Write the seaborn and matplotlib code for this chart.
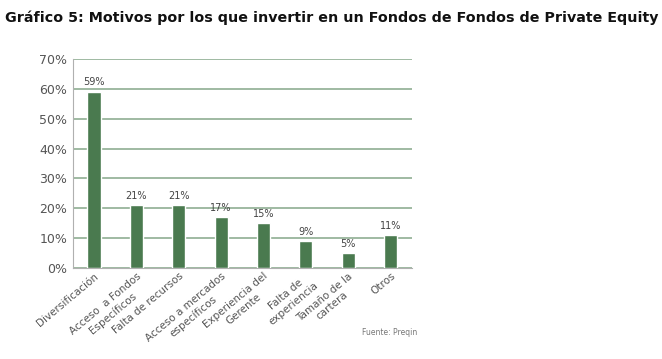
import pandas as pd
import matplotlib
matplotlib.use('Agg')
import matplotlib.pyplot as plt
import seaborn as sns
from matplotlib.ticker import PercentFormatter

# Datos del gráfico
categorias = ['Diversificación', 'Acceso  a Fondos\nEspecíficos', 'Falta de recursos',
              'Acceso a mercados\nespecíficos', 'Experiencia del\nGerente',
              'Falta de\nexperiencia', 'Tamaño de la\ncartera', 'Otros']
valores = [59, 21, 21, 17, 15, 9, 5, 11]
etiquetas = ['59%', '21%', '21%', '17%', '15%', '9%', '5%', '11%']

df = pd.DataFrame({'motivo': categorias, 'valor': valores})

sns.set_style('white')
plt.rcParams['font.family'] = ['DejaVu Sans']

fig = plt.figure(figsize=(6.62, 3.59), dpi=100)
ax = fig.add_axes([0.110, 0.253, 0.512, 0.583])

sns.barplot(data=df, x='motivo', y='valor', color='#4a7a4f', width=0.31,
            saturation=1, ax=ax, zorder=3)

# Etiquetas de valor
for i, (v, t) in enumerate(zip(valores, etiquetas)):
    ax.text(i, v + 1.5, t, ha='center', va='bottom', fontsize=7, color='#444444')

ax.set_ylim(0, 70)
ax.set_xlim(-0.5, 7.5)
ax.set_yticks(range(0, 71, 10))
ax.yaxis.set_major_formatter(PercentFormatter(decimals=0))
ax.grid(axis='y', color='#8fae92', linewidth=1.2, zorder=0)
ax.set_xlabel('')
ax.set_ylabel('')

for s in ['top', 'right']:
    ax.spines[s].set_visible(False)
ax.spines['left'].set_color('#b0b0b0')
ax.spines['bottom'].set_color('#b0b0b0')

# Ticks del eje x entre categorías
ax.set_xticks([i - 0.5 for i in range(9)], minor=True)
ax.tick_params(axis='x', which='minor', length=6, color='#999999', direction='out')
ax.tick_params(axis='x', which='major', length=0, labelsize=7.5, labelcolor='#555555', pad=2)
ax.tick_params(axis='y', length=0, labelsize=9, labelcolor='#555555', pad=4)
ax.set_xticks(range(len(categorias)))
ax.set_xticklabels(categorias, rotation=40, ha='right', rotation_mode='anchor',
                   multialignment='center')

fig.text(0.008, 0.95, 'Gráfico 5: Motivos por los que invertir en un Fondos de Fondos de Private Equity',
         fontsize=10.3, fontweight='bold', color='#111111', va='center', ha='left')
fig.text(0.547, 0.075, 'Fuente: Preqin', fontsize=5.5, color='#777777', ha='left', va='center')

fig.savefig('out.png', dpi=100)
